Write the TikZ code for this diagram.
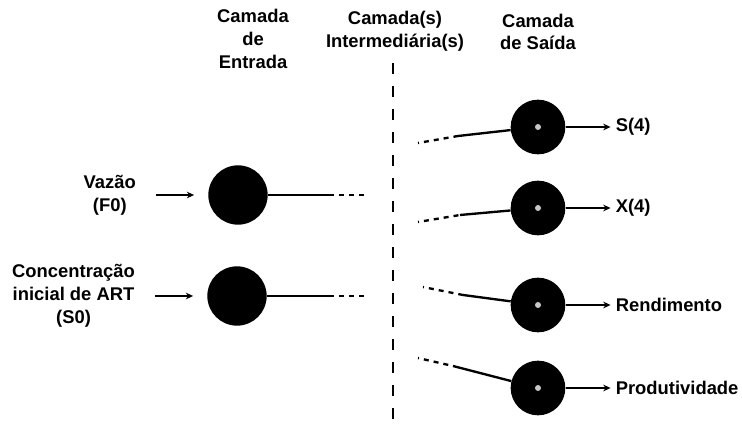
\documentclass[tikz,border=0pt]{standalone}
\usepackage{fontspec}
\setmainfont{Liberation Sans}
\usetikzlibrary{arrows.meta, positioning}
\tikzset{
    entrada/.style={
        circle,
        fill=black,
        inner sep=0pt,
        minimum size=1.78cm,
    },
    saida/.style={
        circle,
        fill=black,
        inner sep=0pt,
        minimum size=1.64cm,
        path picture={\fill[gray!45] (path picture bounding box.center) circle (0.09cm);},
    },
    rotulo/.style={
        font={\bfseries\fontsize{15.7}{19.5}\selectfont},
        align=center,
        inner sep=0pt,
    },
    seta/.style={->, line width=1.6pt},
    ligacao/.style={line width=2pt},
    tracejado/.style={line width=2pt, dash pattern=on 0.15cm off 0.15cm, dash phase=0.12cm},
}

\begin{document}
\begin{tikzpicture}[x=0.03cm, y=-0.03cm, >={Stealth[length=0.22cm, width=0.2cm]}, node distance=2.16cm]
          \useasboundingbox (0,0) rectangle (742,429);

          % camadas
          \node [rotulo] (cab-ent) at (253,39) {Camada\\de\\Entrada};
          \node [rotulo] (cab-int) at (395,31) {Camada(s)\\Intermediária(s)};
          \node [rotulo] (cab-sai) at (538,32) {Camada\\de Saída};
          \coordinate (div-topo) at (393,63);
          \coordinate (div-base) at (393,429);
          \draw[line width=2.4pt, dash pattern=on 0.33cm off 0.36cm] (div-topo) -- (div-base);

          % entradas
          \node [entrada] (n-F0) at (238,195) {};
          \node [entrada] (n-S0) at (237,296) {};
          \node [rotulo] (F0) [left=of n-F0] {Vazão\\(F0)};
          \node [rotulo] (S0) [left=of n-S0] {Concentração\\inicial de ART\\(S0)};
          \path[seta] (F0.east) edge [shorten <=0.6cm, shorten >=0.42cm] (n-F0.west);
          \path[seta] (S0.east |- n-S0.west) edge [shorten <=0.6cm, shorten >=0.42cm] (n-S0.west);

          \coordinate (F0-a) at (333,195);
          \coordinate (F0-b) at (367,195);
          \coordinate (S0-a) at (333,296);
          \coordinate (S0-b) at (367,296);
          \draw[ligacao] (n-F0) -- (F0-a);
          \draw[tracejado] (F0-a) -- (F0-b);
          \draw[ligacao] (n-S0) -- (S0-a);
          \draw[tracejado] (S0-a) -- (S0-b);

          % saidas
          \node [saida] (n-S4) at (538,127) {};
          \node [saida] (n-X4) at (538,208) {};
          \node [saida] (n-Rend) at (538,305) {};
          \node [saida] (n-Prod) at (538,388) {};
          \node [rotulo, anchor=west] (S4) [right=1.5cm of n-S4] {S(4)};
          \node [rotulo, anchor=west] (X4) [right=1.5cm of n-X4] {X(4)};
          \node [rotulo, anchor=west] (Rend) [right=1.5cm of n-Rend] {Rendimento};
          \node [rotulo, anchor=west] (Prod) [right=1.5cm of n-Prod] {Produtividade};
          \path[seta] (n-S4) edge [shorten >=0.15cm] (S4);
          \path[seta] (n-X4) edge [shorten >=0.15cm] (X4);
          \path[seta] (n-Rend) edge [shorten >=0.15cm] (Rend);
          \path[seta] (n-Prod) edge [shorten >=0.15cm] (Prod);

          \coordinate (S4-a) at (418,143);
          \coordinate (S4-b) at (458,136);
          \coordinate (X4-a) at (418,222);
          \coordinate (X4-b) at (460,215);
          \coordinate (Rend-a) at (423,287);
          \coordinate (Rend-b) at (463,295);
          \coordinate (Prod-a) at (418,358);
          \coordinate (Prod-b) at (453,366);
          \draw[tracejado] (S4-a) -- (S4-b);
          \draw[ligacao] (S4-b) -- (n-S4);
          \draw[tracejado] (X4-a) -- (X4-b);
          \draw[ligacao] (X4-b) -- (n-X4);
          \draw[tracejado] (Rend-a) -- (Rend-b);
          \draw[ligacao] (Rend-b) -- (n-Rend);
          \draw[tracejado] (Prod-a) -- (Prod-b);
          \draw[ligacao] (Prod-b) -- (n-Prod);
        \end{tikzpicture}
\end{document}
